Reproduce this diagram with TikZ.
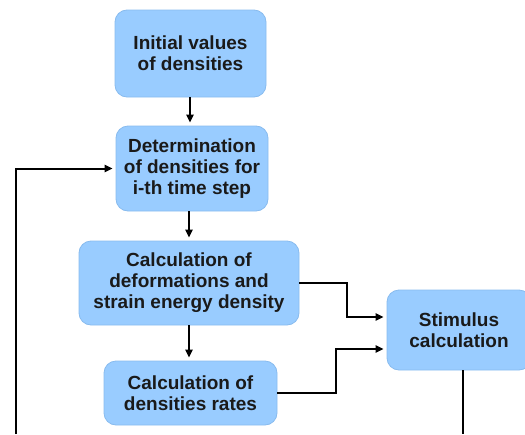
\documentclass[tikz,border=0pt]{standalone}
\usepackage{fontspec}
\setmainfont{Liberation Sans}
\usetikzlibrary{arrows.meta,positioning,calc}
\definecolor{boxfill}{HTML}{99CCFF}
\definecolor{boxline}{HTML}{88BBEE}
\definecolor{boxtext}{HTML}{1A1A1A}

\begin{document}
\begin{tikzpicture}[x=1pt,y=-1pt]

\tikzset{bluenode/.style={shape=rectangle,rounded corners=12pt,fill=boxfill,draw=boxline,line width=0.8pt,align=center,inner sep=0pt,text=boxtext,font=\fontsize{19}{21}\selectfont\bfseries},
flow/.style={line width=2pt,shorten >=3pt,-{Triangle[length=8pt,width=7pt]}}}

\useasboundingbox (0,0) rectangle (525,434);
\clip (0,0) rectangle (525,434);

% Boxes
\node (init) [bluenode,minimum width=151pt,minimum height=87pt] at (190.5,53.5) {Initial values\\of densities};
\node (determ) [bluenode,minimum width=152pt,minimum height=85pt] at (192,168.5) {Determination\\of densities for\\i-th time step};
\node (deform) [bluenode,minimum width=220pt,minimum height=84pt] at (189,283) {Calculation of\\deformations and\\strain energy density};
\node (rates) [bluenode,minimum width=173pt,minimum height=64pt] at (190.5,393) {Calculation of\\densities rates};
\node (stimulus) [bluenode,minimum width=144pt,minimum height=80pt] at (459,330) {Stimulus\\calculation};

% Free ends
\coordinate (loopbot) at (16,434);
\coordinate (stimbot) at (463,434);

% Arrows
\draw[flow] (init.south -| 190,0) -- (determ.north -| 190,0);
\draw[flow] (determ.south -| 189,0) -- (deform.north -| 189,0);
\draw[flow] (deform.south) -- (rates.north -| deform.south);
\draw[flow] (deform.east) -- ++(48,0) |- ($(stimulus.west)+(0,-13)$);
\draw[flow] (rates.east) -- ++(59,0) |- ($(stimulus.west)+(0,19)$);
\draw[line width=2pt] (stimulus.south -| stimbot) -- (stimbot);
\draw[flow] (loopbot) |- (determ.west);

\end{tikzpicture}
\end{document}
